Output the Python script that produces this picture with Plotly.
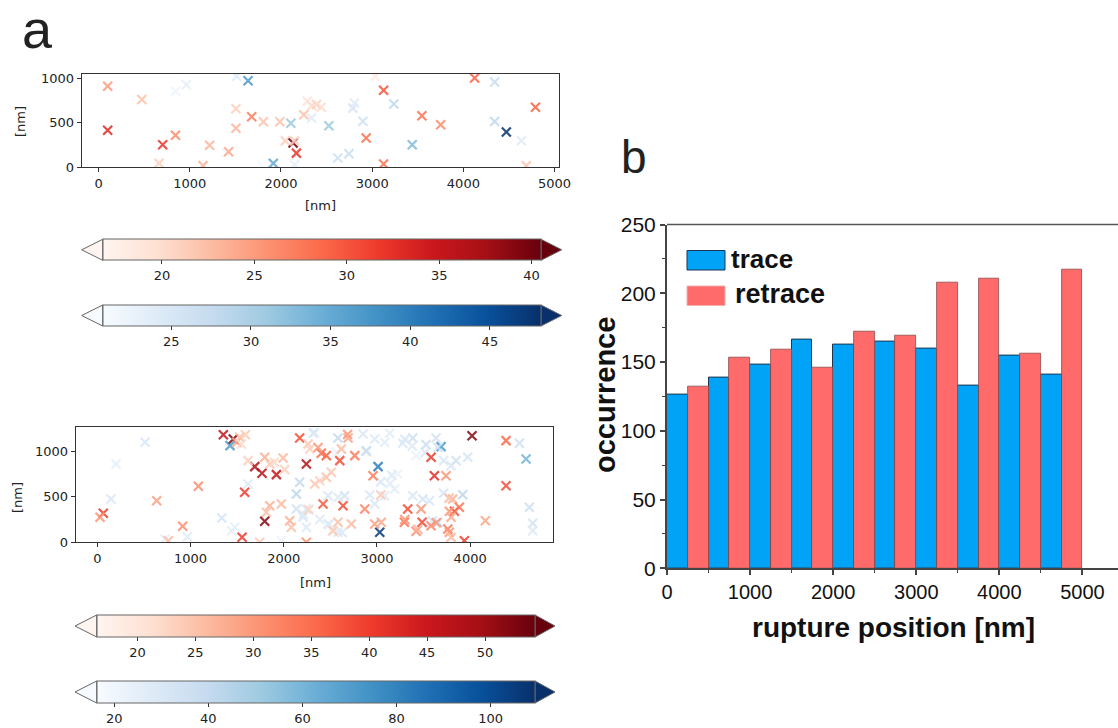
import plotly.graph_objects as go

W, H = 1118, 728
def px(x): return x / W
def py(y): return 1 - y / H

# ---------------- data ----------------
# panel a, top scan: rupture events (x [nm], y [nm], value)
top_red_x = [100, 474, 100, 703, 843, 663, 1145, 1217, 1426, 1506, 1506, 1679, 1807, 1988, 2048, 2133,
             2169, 2149, 2250, 2289, 2335, 2390, 2440, 2934, 3033, 3125, 3125, 3545, 3751, 4123, 4690, 4790]
top_red_y = [907, 759, 415, 252, 359, 44, 19, 248, 174, 655, 437, 567, 511, 511, 296, 272,
             159, 296, 589, 741, 690, 704, 672, 328, 1019, 862, 37, 578, 477, 1000, 18, 672]
top_red_v = [25, 22, 33, 32, 26, 21, 23, 23, 24, 21, 23, 27, 22, 22, 21, 40,
             32, 21, 22, 19, 20, 21, 20, 28, 18, 30, 28, 28, 26, 29, 22, 29]

top_blue_x = [845, 962, 1515, 1639, 1916, 2108, 2151, 2335, 2525, 2623, 2745, 2788, 2806, 2898,
              3238, 3439, 4343, 4343, 4471, 4636, 3026, 1786, 1402]
top_blue_y = [851, 925, 1020, 970, 44, 493, 29, 552, 466, 104, 152, 663, 720, 515,
              709, 253, 955, 514, 395, 298, 309, 29, 160]
top_blue_v = [22, 23, 24, 37, 35, 31, 23, 24, 31, 26, 27, 25, 24, 26,
              28, 33, 27, 28, 48, 24, 21, 21, 21]

# panel a, bottom scan
bot_red_x = [64, 29, 637, 1084, 916, 762, 1352, 1459, 1496, 1528, 1588, 1545, 2171, 2690, 2261, 2279,
             2403, 2457, 2618, 2601, 2762, 2958, 1689, 1767, 1921, 1796, 1850, 1993, 2243, 1581,
             2332, 2386, 2457, 2511, 2422, 2636, 2869, 1850, 1974, 1813, 1796, 2064, 2082, 2582,
             2725, 2976, 3047, 1553, 1742, 2243, 1617, 2368, 2685, 2527, 2269, 4020, 4385, 4385,
             4163, 3581, 3616, 3741, 3813, 3831, 3884, 3777, 3795, 3330, 3473, 3294, 3484, 3580,
             3420, 3760, 3777, 3795, 3938, 3041, 3299, 3438, 3636, 3774, 1900, 2010]
bot_red_y = [319, 275, 458, 617, 176, 18, 1185, 1138, 1101, 1156, 1185, 1083, 1149, 1149, 1083, 1028,
             980, 954, 1028, 899, 954, 733, 833, 760, 745, 936, 862, 928, 862, 551,
             642, 678, 716, 771, 422, 403, 367, 403, 422, 330, 231, 238, 165, 220,
             202, 202, 220, 55, 0, 0, 899, 1043, 1187, 126, 360, 1174, 1119, 623,
             238, 936, 733, 733, 477, 341, 385, 341, 275, 367, 367, 220, 220, 183,
             121, 146, 110, 55, 18, 521, 252, 144, 216, 486, 880, 800]
bot_red_v = [40, 30, 29, 31, 31, 26, 46, 52, 28, 25, 24, 22, 38, 28, 24, 23,
             35, 36, 26, 38, 33, 33, 48, 47, 46, 27, 24, 26, 48, 40,
             24, 23, 25, 24, 37, 38, 32, 27, 26, 25, 52, 27, 25, 25,
             26, 29, 28, 40, 24, 30, 23, 30, 30, 24, 23, 52, 35, 38,
             28, 40, 42, 30, 27, 38, 34, 30, 28, 38, 30, 34, 38, 32,
             31, 33, 30, 26, 40, 24, 30, 27, 30, 25, 22, 23]

bot_blue_x = [512, 201, 147, 726, 966, 1335, 1442, 1477, 1424, 2315, 2582, 2851, 2976, 3137, 3083,
              2886, 3012, 1617, 2171, 2136, 2475, 2582, 2654, 2976, 3083, 3190, 2136, 2243, 2207,
              2243, 2475, 2582, 3030, 1974, 4528, 4600, 4635, 4671, 4671, 3688, 3384, 3277, 3527,
              3634, 3420, 3223, 3795, 3849, 3974, 3920, 3384, 3491, 3563, 3652, 3299, 3378, 3517,
              3655, 3715, 3715, 3497, 3596, 2329, 2566, 2388, 2487, 2626, 2210, 2923, 3041, 3140,
              3160, 2883]
bot_blue_y = [1101, 862, 477, 36, 62, 268, 128, 165, 1064, 1200, 1149, 1193, 1138, 1200, 1101,
              1009, 833, 642, 661, 532, 513, 496, 513, 422, 513, 587, 367, 367, 275,
              165, 202, 110, 110, 18, 1090, 917, 385, 209, 128, 1053, 1149, 1090, 1075,
              1149, 954, 752, 844, 899, 936, 524, 513, 477, 458, 220, 1133, 1061, 989,
              1043, 899, 540, 216, 234, 1205, 989, 252, 198, 108, 306, 521, 665, 647,
              737, 1000]
bot_blue_v = [30, 25, 30, 25, 28, 32, 25, 24, 70, 28, 40, 30, 28, 26, 26,
              35, 82, 28, 40, 42, 30, 28, 33, 30, 28, 26, 33, 30, 30,
              28, 28, 28, 105, 22, 35, 60, 35, 33, 28, 70, 35, 30, 35,
              33, 22, 22, 30, 33, 32, 42, 30, 32, 30, 42, 30, 28, 30,
              35, 30, 32, 30, 32, 30, 22, 28, 28, 30, 28, 30, 30, 26,
              28, 35]

# colorbar ranges and ticks
red1_range, red1_ticks = [16.8, 40.5], [20, 25, 30, 35, 40]
blue1_range, blue1_ticks = [20.7, 48.2], [25, 30, 35, 40, 45]
red2_range, red2_ticks = [16.5, 54.3], [20, 25, 30, 35, 40, 45, 50]
blue2_range, blue2_ticks = [16.3, 109.4], [20, 40, 60, 80, 100]

# panel b: histogram of rupture positions
bin_centers = [250, 750, 1250, 1750, 2250, 2750, 3250, 3750, 4250, 4750]
trace_counts = [126, 139, 148, 166, 163, 165, 160, 133, 155, 141]
retrace_counts = [132, 153, 159, 146, 172, 169, 208, 211, 156, 217]

REDS = ['#fff5f0', '#fee0d2', '#fcbba1', '#fc9272', '#fb6a4a', '#ef3b2c', '#cb181d', '#a50f15', '#67000d']
BLUES = ['#f7fbff', '#deebf7', '#c6dbef', '#9ecae1', '#6baed6', '#4292c6', '#2171b5', '#08519c', '#08306b']

MPL_FONT = dict(family='DejaVu Sans', size=13, color='#222')
BOLD = 'Liberation Sans, Arial, sans-serif'

fig = go.Figure()

def scat(x, y, v, ca, xa, ya):
    fig.add_trace(go.Scatter(
        x=x, y=y, mode='markers', xaxis=xa, yaxis=ya, showlegend=False, hoverinfo='skip',
        marker=dict(symbol='x-thin', size=9, opacity=0.85,
                    line=dict(width=2.2, color=v, coloraxis=ca))))

scat(top_blue_x, top_blue_y, top_blue_v, 'coloraxis2', 'x', 'y')
scat(top_red_x, top_red_y, top_red_v, 'coloraxis', 'x', 'y')
scat(bot_blue_x, bot_blue_y, bot_blue_v, 'coloraxis4', 'x2', 'y2')
scat(bot_red_x, bot_red_y, bot_red_v, 'coloraxis3', 'x2', 'y2')

fig.add_trace(go.Bar(x=bin_centers, y=trace_counts, name='trace', xaxis='x3', yaxis='y3',
                     marker=dict(color='#00A3F5', line=dict(color='#1d3550', width=1)), showlegend=False))
fig.add_trace(go.Bar(x=bin_centers, y=retrace_counts, name='retrace', xaxis='x3', yaxis='y3',
                     marker=dict(color='#FF6A6A', line=dict(color='#8a4a4a', width=0.8)), showlegend=False))

mpl_axis = dict(showline=True, mirror=True, linecolor='#333', linewidth=1, ticks='outside',
                ticklen=4, tickwidth=1, tickcolor='#333', showgrid=False, zeroline=False,
                tickfont=MPL_FONT)

# colorbars: rectangle part spans (x0,x1) px, top y px
def cbar(cs, rng, ticks, x0, x1, ytop, thick):
    return dict(colorscale=cs, cmin=rng[0], cmax=rng[1],
                colorbar=dict(orientation='h', x=px((x0 + x1) / 2), xanchor='center',
                              y=py(ytop), yanchor='top', len=(x1 - x0) / W, lenmode='fraction',
                              thickness=thick, xpad=0, ypad=0, tickvals=ticks, ticks='outside',
                              ticklen=4, tickcolor='#333', tickfont=MPL_FONT,
                              outlinewidth=1, outlinecolor='#666'))

cb = [
    (REDS, red1_range, red1_ticks, 102.7, 541, 239.3, 21, 81.7, 561.7),
    (BLUES, blue1_range, blue1_ticks, 102.7, 541, 305, 21, 81.7, 561.7),
    (REDS, red2_range, red2_ticks, 96.7, 535, 615, 22, 75, 555),
    (BLUES, blue2_range, blue2_ticks, 96.7, 535, 681, 22, 75, 555),
]

shapes = []
for cs, rng, ticks, x0, x1, yt, th, tipl, tipr in cb:
    yb = yt + th
    ym = (yt + yb) / 2
    shapes.append(dict(type='path', xref='paper', yref='paper',
                       path=f'M {px(x0)} {py(yt)} L {px(tipl)} {py(ym)} L {px(x0)} {py(yb)} Z',
                       fillcolor=cs[0], line=dict(color='#666', width=1)))
    shapes.append(dict(type='path', xref='paper', yref='paper',
                       path=f'M {px(x1)} {py(yt)} L {px(tipr)} {py(ym)} L {px(x1)} {py(yb)} Z',
                       fillcolor=cs[-1], line=dict(color='#666', width=1)))

# panel b top border line and legend boxes
shapes.append(dict(type='line', xref='paper', yref='paper', x0=px(667), x1=1, y0=py(224.6), y1=py(224.6),
                   line=dict(color='#555', width=1.5)))
shapes.append(dict(type='rect', xref='paper', yref='paper', x0=px(687), x1=px(725), y0=py(270), y1=py(250.5),
                   fillcolor='#00A3F5', line=dict(color='#1d3550', width=1)))
shapes.append(dict(type='rect', xref='paper', yref='paper', x0=px(687), x1=px(725), y0=py(305.5), y1=py(286),
                   fillcolor='#FF6A6A', line=dict(color='#f0b0b0', width=1)))

ann = []
def text(t, x, y, size, family, bold=False, angle=0, xanchor='center'):
    ann.append(dict(text=f'<b>{t}</b>' if bold else t, x=px(x), y=py(y), xref='paper', yref='paper',
                    showarrow=False, xanchor=xanchor, yanchor='middle', textangle=angle,
                    font=dict(size=size, family=family, color='#111' if bold else '#222')))

text('a', 37, 29, 54, 'Liberation Sans')
text('b', 634, 157, 46, 'Liberation Sans')
text('[nm]', 320, 205, 13, 'DejaVu Sans')
text('[nm]', 21, 122, 13, 'DejaVu Sans', angle=-90)
text('[nm]', 315, 582, 13, 'DejaVu Sans')
text('[nm]', 17, 498, 13, 'DejaVu Sans', angle=-90)
text('occurrence', 605, 395, 29, BOLD, bold=True, angle=-90)
text('rupture position [nm]', 893, 627, 28, BOLD, bold=True)
text('trace', 729, 259, 26, BOLD, bold=True, xanchor='left')
text('retrace', 733, 294, 27, BOLD, bold=True, xanchor='left')

fig.update_layout(
    width=W, height=H, margin=dict(l=0, r=0, t=0, b=0, autoexpand=False),
    paper_bgcolor='white', plot_bgcolor='white',
    barmode='group', bargap=0, bargroupgap=0,
    coloraxis=cbar(*cb[0][:7]), coloraxis2=cbar(*cb[1][:7]),
    coloraxis3=cbar(*cb[2][:7]), coloraxis4=cbar(*cb[3][:7]),
    xaxis=dict(domain=[px(81.7), px(558.7)], range=[-185, 5045], anchor='y',
               tickvals=[0, 1000, 2000, 3000, 4000, 5000], **mpl_axis),
    yaxis=dict(domain=[py(167.3), py(74)], range=[0, 1045], anchor='x',
               tickvals=[0, 500, 1000], **mpl_axis),
    xaxis2=dict(domain=[px(75.6), px(553.4)], range=[-233, 4893], anchor='y2',
                tickvals=[0, 1000, 2000, 3000, 4000], **mpl_axis),
    yaxis2=dict(domain=[py(542.3), py(427.3)], range=[0, 1266], anchor='x2',
                tickvals=[0, 500, 1000], **mpl_axis),
    xaxis3=dict(domain=[px(667), 1], range=[0, 5428], anchor='y3', showline=True, linecolor='#444',
                linewidth=2, ticks='outside', ticklen=5, tickwidth=2, tickcolor='#444',
                tickvals=[0, 1000, 2000, 3000, 4000, 5000], showgrid=False, zeroline=False,
                tickfont=dict(family=BOLD, size=20, color='#111'), tickprefix='<b>', ticksuffix='</b>',
                minor=dict(ticks='outside', ticklen=3, tickwidth=1, dtick=500, tickcolor='#444')),
    yaxis3=dict(domain=[py(568.3), py(224.6)], range=[0, 250], anchor='x3', showline=True,
                linecolor='#444', linewidth=2, ticks='outside', ticklen=5, tickwidth=2, tickcolor='#444',
                tickvals=[0, 50, 100, 150, 200, 250], showgrid=False, zeroline=False,
                tickfont=dict(family=BOLD, size=21, color='#111'), tickprefix='<b>', ticksuffix='</b>',
                minor=dict(ticks='outside', ticklen=3, tickwidth=1, dtick=25, tickcolor='#444')),
    shapes=shapes, annotations=ann,
)

fig.write_html("out.html", config={'displayModeBar': False},
               post_script="document.body.style.margin='0px';")
